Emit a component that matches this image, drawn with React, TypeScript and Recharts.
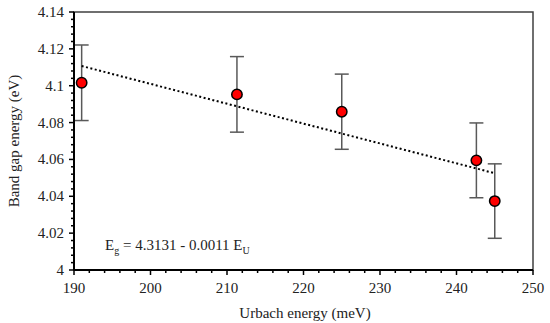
import {
  ComposedChart,
  ErrorBar,
  ReferenceArea,
  Scatter,
  XAxis,
  YAxis,
} from 'recharts';

// Urbach energy (meV) vs band gap energy (eV), error = 0.5 % of Eg
const urbachEnergy = [191.0, 211.3, 225.0, 242.6, 245.0];
const bandGap = [4.1016, 4.0953, 4.0859, 4.0595, 4.0374];
const bandGapError = [0.0205, 0.0205, 0.0204, 0.0203, 0.0202];

// linear fit drawn as dotted line (end points)
const fitX = [191.0, 245.0];
const fitY = [4.1107, 4.0525];

const xMajorTicks = [190, 200, 210, 220, 230, 240, 250];
const yMajorTicks = [4, 4.02, 4.04, 4.06, 4.08, 4.1, 4.12, 4.14];

const points = urbachEnergy.map((x, i) => ({ x, y: bandGap[i], err: bandGapError[i] }));
const fitLine = fitX.map((x, i) => ({ x, y: fitY[i] }));

// minor tick marks between the labelled ones
const withMinor = (major: number[], parts: number) => {
  const out: number[] = [];
  for (let i = 0; i < major.length - 1; i++) {
    const step = (major[i + 1] - major[i]) / parts;
    for (let k = 0; k < parts; k++) out.push(+(major[i] + k * step).toFixed(4));
  }
  out.push(major[major.length - 1]);
  return out;
};

const xTicks = withMinor(xMajorTicks, 5);
const yTicks = withMinor(yMajorTicks, 5);

const FONT = 'Liberation Serif, Times New Roman, DejaVu Serif, serif';
const isMajor = (v: number, list: number[]) => list.some((m) => Math.abs(m - v) < 1e-6);

const YTick = (props: any) => {
  const { x, y, payload } = props;
  const major = isMajor(payload.value, yMajorTicks);
  return (
    <g>
      <line x1={x} x2={x - (major ? 5 : 3)} y1={y} y2={y} stroke="#000" strokeWidth={1.5} />
      {major && (
        <text x={x - 10} y={y} textAnchor="end" dominantBaseline="central" fontSize={15} style={{ fontFamily: FONT }} fill="#222">
          {String(Number(payload.value.toFixed(2)))}
        </text>
      )}
    </g>
  );
};

const XTick = (props: any) => {
  const { x, y, payload } = props;
  const major = isMajor(payload.value, xMajorTicks);
  return (
    <g>
      <line x1={x} x2={x} y1={y} y2={y + (major ? 5 : 3)} stroke="#000" strokeWidth={1.5} />
      {major && (
        <text x={x} y={y + 18} textAnchor="middle" dominantBaseline="central" fontSize={15} style={{ fontFamily: FONT }} fill="#222">
          {payload.value}
        </text>
      )}
    </g>
  );
};

const Dot = (props: any) => (
  <circle cx={props.cx} cy={props.cy} r={5.2} fill="#ff0000" stroke="#000" strokeWidth={1.5} />
);

const App = () => {
  return (
    <div style={{ position: 'absolute', left: 0, top: 0, width: 550, height: 323, background: '#fff', fontFamily: FONT }}>
      <ComposedChart width={550} height={323} margin={{ top: 12, right: 17, left: 0, bottom: 0 }} style={{ fontFamily: FONT }}>
        <XAxis
          type="number"
          dataKey="x"
          domain={[190, 250]}
          ticks={xTicks}
          interval={0}
          tickSize={0}
          tickMargin={0}
          tick={<XTick />}
          axisLine={{ stroke: '#000', strokeWidth: 2 }}
          height={53}
          label={{
            content: () => (
              <text x={305} y={313} textAnchor="middle" dominantBaseline="central" fontSize={15} style={{ fontFamily: FONT }} fill="#222">
                Urbach energy (meV)
              </text>
            ),
          }}
        />
        <YAxis
          type="number"
          dataKey="y"
          domain={[4, 4.14]}
          ticks={yTicks}
          interval={0}
          tickSize={0}
          tickMargin={0}
          tick={<YTick />}
          axisLine={{ stroke: '#000', strokeWidth: 2 }}
          width={74}
          label={{
            content: () => (
              <text
                x={14}
                y={141}
                transform="rotate(-90 14 141)"
                textAnchor="middle"
                dominantBaseline="central"
                fontSize={15}
                style={{ fontFamily: FONT }}
                fill="#222"
              >
                Band gap energy (eV)
              </text>
            ),
          }}
        />
        <ReferenceArea x1={190} x2={250} y1={4} y2={4.14} fill="none" stroke="#404040" strokeWidth={1.5} />
        <Scatter
          data={fitLine}
          dataKey="y"
          line={{ stroke: '#000', strokeWidth: 2, strokeDasharray: '2 2.5' }}
          shape={() => <g />}
          isAnimationActive={false}
        />
        <Scatter data={points} dataKey="y" shape={<Dot />} isAnimationActive={false}>
          <ErrorBar dataKey="err" direction="y" width={7} stroke="#595959" strokeWidth={1.5} />
        </Scatter>
      </ComposedChart>
      <div
        style={{
          position: 'absolute',
          left: 105,
          top: 236,
          fontFamily: FONT,
          fontSize: 15,
          color: '#222',
          whiteSpace: 'nowrap',
          lineHeight: '18px',
        }}
      >
        E<span style={{ fontSize: 10, verticalAlign: -4 }}>g</span> = 4.3131 - 0.0011 E
        <span style={{ fontSize: 10, verticalAlign: -4 }}>U</span>
      </div>
    </div>
  );
};

export default App;
